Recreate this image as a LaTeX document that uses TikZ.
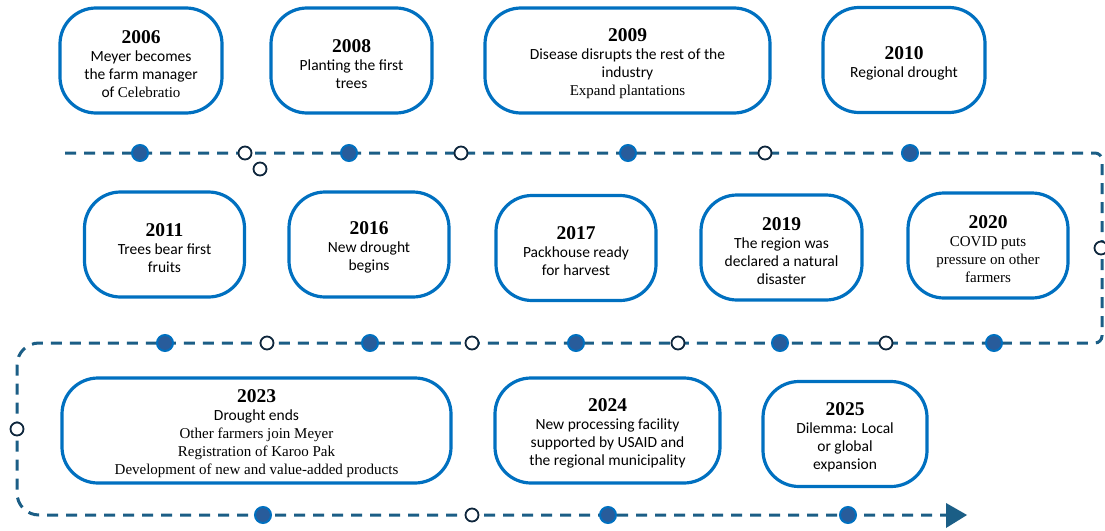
\documentclass[tikz,border=0pt]{standalone}
\usepackage{fontspec}
\setmainfont{Liberation Serif}
\newfontfamily\sansf{Carlito}
\usetikzlibrary{arrows.meta}
\definecolor{boxblue}{RGB}{0,112,192}
\definecolor{lineblue}{RGB}{27,94,134}
\definecolor{dotfill}{RGB}{40,92,155}
\definecolor{navy}{RGB}{14,38,60}
\newcommand\yr[1]{{\rmfamily\fontsize{19.5}{18}\selectfont\bfseries\rule{0pt}{19.5pt}#1}}
\newcommand\sa{\sansf\fontsize{15.5}{18}\selectfont}
\newcommand\se{\rmfamily\fontsize{15}{18}\selectfont}
\tikzset{
  evbox/.style={draw=boxblue, line width=3.2pt, rounded corners=36pt, fill=white,
    inner sep=0pt, align=center, minimum height=105pt,
    font=\sansf\fontsize{15.5}{18}\selectfont},
  tl/.style={draw=lineblue, line width=3pt, dash pattern=on 11pt off 8pt},
  fdot/.style={circle, draw=boxblue, fill=dotfill, line width=2pt, minimum size=16pt, inner sep=0pt},
  odot/.style={circle, draw=navy, fill=white, line width=1.8pt, minimum size=13pt, inner sep=0pt}
}
\begin{document}
\begin{tikzpicture}[x=1pt,y=-1pt]
\useasboundingbox (0,0) rectangle (1105,530);
% boxes row 1
\node[evbox, minimum width=162pt] (b2006) at (141,60.5) {\yr{2006}\\ \sa Meyer becomes\\ \sa the farm manager\\ \sa of {\se Celebratio}};
\node[evbox, minimum width=161pt] (b2008) at (351.5,60.5) {\yr{2008}\\ \sa Planting the first\\ \sa trees};
\node[evbox, minimum width=285pt] (b2009) at (627.5,60.5) {\yr{2009}\\ \sa Disease disrupts the rest of the\\ \sa industry\\ \se Expand plantations};
\node[evbox, minimum width=162pt] (b2010) at (904,60) {\yr{2010}\\ \sa Regional drought};
% boxes row 2
\node[evbox, minimum width=160pt] (b2011) at (164.5,244.5) {\yr{2011}\\ \sa Trees bear first\\ \sa fruits};
\node[evbox, minimum width=160pt] (b2016) at (369,244.5) {\yr{2016}\\ \sa New drought\\ \sa begins};
\node[evbox, minimum width=160pt] (b2017) at (576,248) {\yr{2017}\\ \sa Packhouse ready\\ \sa for harvest};
\node[evbox, minimum width=161pt] (b2019) at (781.5,247.5) {\yr{2019}\\ \sa The region was\\ \sa declared a natural\\ \sa disaster};
\node[evbox, minimum width=160pt] (b2020) at (988,245.5) {\yr{2020}\\ \se COVID puts\\ \se pressure on other\\ \se farmers};
% boxes row 3
\node[evbox, minimum width=389pt] (b2023) at (256.5,430.5) {\yr{2023}\\ \sa Drought ends\\ \se Other farmers join Meyer\\ \se Registration of Karoo Pak\\ \se Development of new and value-added products};
\node[evbox, minimum width=225pt] (b2024) at (607.5,430.5) {\yr{2024}\\ \sa New processing facility\\ \sa supported by USAID and\\ \sa the regional municipality};
\node[evbox, minimum width=164pt] (b2025) at (845,434) {\yr{2025}\\ \sa Dilemma: Local\\ \sa or global\\ \sa expansion};
% timeline
\coordinate (s) at (65,153);
\coordinate (tr) at (1102,153);
\coordinate (br) at (1102,343);
\coordinate (tl2) at (17,343);
\coordinate (bl) at (17,515);
\coordinate (e) at (967,515);
\coordinate (ab) at (946,515);
\draw[tl] (s) [rounded corners=7pt] -- (tr) -- (br) [rounded corners=22pt] -- (tl2) -- (bl) [sharp corners] -- (ab);
% arrow head
\fill[lineblue] (946,503) -- (e) -- (946,528) -- cycle;
% dots row 1
\node[fdot] (d1) at (140,153) {};
\node[odot] (o1) at (245,153) {};
\node[odot] (o1b) at (260,169) {};
\node[fdot] (d2) at (349,153) {};
\node[odot] (o2) at (461,153) {};
\node[fdot] (d3) at (628,153) {};
\node[odot] (o3) at (765,153) {};
\node[fdot] (d4) at (910,153) {};
% right side
\node[odot] (o4) at (1101,248) {};
% row 2
\node[fdot] (d5) at (165,343) {};
\node[odot] (o5) at (267,343) {};
\node[fdot] (d6) at (370,343) {};
\node[odot] (o6) at (472,343) {};
\node[fdot] (d7) at (576,343) {};
\node[odot] (o7) at (678,343) {};
\node[fdot] (d8) at (780,343) {};
\node[odot] (o8) at (886,343) {};
\node[fdot] (d9) at (994,343) {};
% left side
\node[odot] (o9) at (17,429) {};
% row 3
\node[fdot] (d10) at (263,515) {};
\node[odot] (o10) at (472,515) {};
\node[fdot] (d11) at (608,515) {};
\node[fdot] (d12) at (848,515) {};
\end{tikzpicture}
\end{document}
